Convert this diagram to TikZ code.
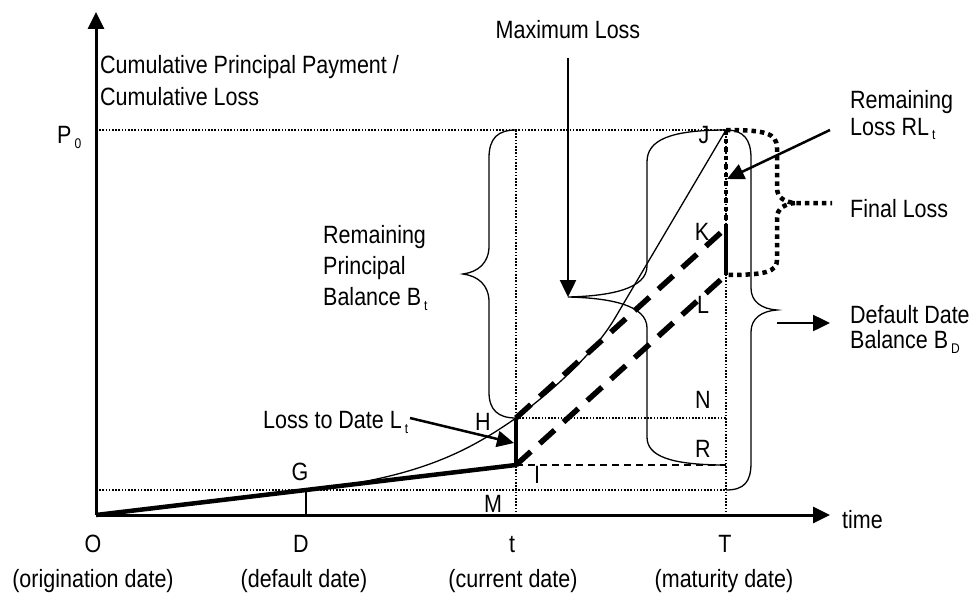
\documentclass[tikz,border=0pt]{standalone}
\usepackage{fontspec}
\setmainfont{Liberation Sans}[FakeStretch=0.86]
\usetikzlibrary{arrows.meta}
\newcommand\subtxt[1]{\hspace{3pt}\raisebox{-5pt}{\fontsize{14}{14}\selectfont #1}}
\begin{document}
\begin{tikzpicture}[x=1pt,y=-1pt,
  lbl/.style={inner sep=0pt, anchor=base, font=\fontsize{25}{29}\selectfont},
  lbll/.style={lbl, anchor=base west},
  fine/.style={line width=1.6pt, dash pattern=on 1.6pt off 1.6pt},
  finedash/.style={line width=1.6pt, dash pattern=on 7pt off 5pt},
  thin/.style={line width=1.3pt},
  heavy/.style={line width=4.5pt, line join=round},
  heavydash/.style={line width=5.5pt, dash pattern=on 20pt off 12pt},
  heavydot/.style={line width=4.5pt, dash pattern=on 4.5pt off 4pt},
  pointer/.style={line width=2.5pt, -{Triangle[length=17pt,width=16pt]}},
  axis/.style={line width=3pt, -{Triangle[length=17pt,width=16pt]}}]
\useasboundingbox (0,0) rectangle (972,594);

% key points
\coordinate (O) at (96,515);
\coordinate (ytop) at (96,12);
\coordinate (xend) at (830,515);
\coordinate (P0L) at (96,130);
\coordinate (ML) at (96,490);
\coordinate (G) at (306,490);
\coordinate (Dax) at (306,515);
\coordinate (H) at (516,418);
\coordinate (I) at (516,465);
\coordinate (tTop) at (516,130);
\coordinate (tAx) at (516,515);
\coordinate (J) at (726,130);
\coordinate (Kp) at (726,228);
\coordinate (Lp) at (726,275);
\coordinate (N) at (726,418);
\coordinate (R) at (726,465);
\coordinate (TAx) at (726,515);
\coordinate (Tm) at (726,490);
\coordinate (bend) at (615,318);

% guide lines
\draw[fine] (P0L) -- (J);
\draw[fine] (tTop) -- (tAx);
\draw[fine] (J) -- (TAx);
\draw[fine] (ML) -- (Tm);
\draw[fine] (H) -- (N);
\draw[finedash] (I) -- (R);
\draw[line width=1.6pt] (G) -- (Dax);

% axes
\draw[axis] (O) -- (ytop);
\draw[axis] (O) -- (xend);

% principal payment curve
\draw[thin] (G) .. controls (420,478) and (470,450) .. (H)
  .. controls (560,385) and (596,350) .. (bend) -- (J);

% loss paths
\draw[heavy] (O) -- (G) -- (I);
\draw[line width=3.5pt] (I) -- (H);
\draw[heavydash] (H) -- (Kp);
\draw[heavydash] (I) -- (Lp);
\draw[line width=3.2pt] (Kp) -- (Lp);
\draw[heavydot] (J) -- (Kp);

% braces
\draw[thin] (tTop) .. controls (498,130) and (489,138) .. (489,158) -- (489,246)
  .. controls (489,263) and (478,272) .. (463,274)
  .. controls (478,276) and (489,285) .. (489,302) -- (489,392)
  .. controls (489,410) and (498,418) .. (H);
\draw[thin] (J) .. controls (670,130) and (647,140) .. (647,162) -- (647,266)
  .. controls (647,289) and (610,296) .. (568,297)
  .. controls (610,298) and (647,305) .. (647,328) -- (647,437)
  .. controls (647,456) and (670,465) .. (R);
\draw[thin] (J) .. controls (744,130) and (751,140) .. (751,158) -- (751,288)
  .. controls (751,302) and (762,309) .. (777,310)
  .. controls (762,311) and (751,318) .. (751,332) -- (751,463)
  .. controls (751,482) and (744,490) .. (Tm);
\draw[heavydot] (J) .. controls (765,130) and (777,133) .. (777,148) -- (777,188)
  .. controls (777,198) and (785,202) .. (795,203) -- (832,203);
\draw[heavydot] (795,203) .. controls (785,204) and (777,208) .. (777,218) -- (777,260)
  .. controls (777,272) and (765,275) .. (Lp);

% pointers
\coordinate (maxS) at (568,58);
\coordinate (maxE) at (568,297);
\draw[pointer] (maxS) -- (maxE);
\coordinate (rlS) at (830,130);
\coordinate (rlE) at (727,179);
\draw[pointer] (rlS) -- (rlE);
\coordinate (ddS) at (777,323);
\coordinate (ddE) at (830,323);
\draw[pointer] (ddS) -- (ddE);
\coordinate (ltS) at (410,418);
\coordinate (ltE) at (514,443);
\draw[pointer] (ltS) -- (ltE);

% labels
\node[lbll] (ylab1) at (100,74) {Cumulative Principal Payment /};
\node[lbll] (ylab2) at (100,106) {Cumulative Loss};
\node[lbll] (p0) at (57,143) {P\subtxt{0}};
\node[lbl] (maxl) at (568,39) {Maximum Loss};
\node[lbll] (rp1) at (323,243) {Remaining};
\node[lbll] (rp2) at (323,274) {Principal};
\node[lbll] (rp3) at (323,305) {Balance B\subtxt{t}};
\node[lbll] (ltd) at (263,428) {Loss to Date L\subtxt{t}};
\node[lbll] (rl1) at (850,108) {Remaining};
\node[lbll] (rl2) at (850,135) {Loss RL\subtxt{t}};
\node[lbll] (fl) at (850,217) {Final Loss};
\node[lbll] (dd1) at (850,323) {Default Date};
\node[lbll] (dd2) at (850,348) {Balance B\subtxt{D}};
\node[lbl] (lJ) at (704,143) {J};
\node[lbl] (lK) at (702,240) {K};
\node[lbl] (lL) at (703,313) {L};
\node[lbl] (lN) at (703,408) {N};
\node[lbl] (lR) at (703,457) {R};
\node[lbl] (lH) at (483,430) {H};
\node[lbl] (lI) at (537,483) {I};
\node[lbl] (lM) at (493,512) {M};
\node[lbl] (lG) at (300,480) {G};
\node[lbl] (lO) at (93,552) {O};
\node[lbl] (lD) at (301,552) {D};
\node[lbl] (lt) at (512,552) {t};
\node[lbl] (lT) at (725,552) {T};
\node[lbll] (ltime) at (842,528) {time};
\node[lbl] (cO) at (93,587) {(origination date)};
\node[lbl] (cD) at (304,587) {(default date)};
\node[lbl] (ct) at (513,587) {(current date)};
\node[lbl] (cT) at (724,587) {(maturity date)};
\end{tikzpicture}
\end{document}
